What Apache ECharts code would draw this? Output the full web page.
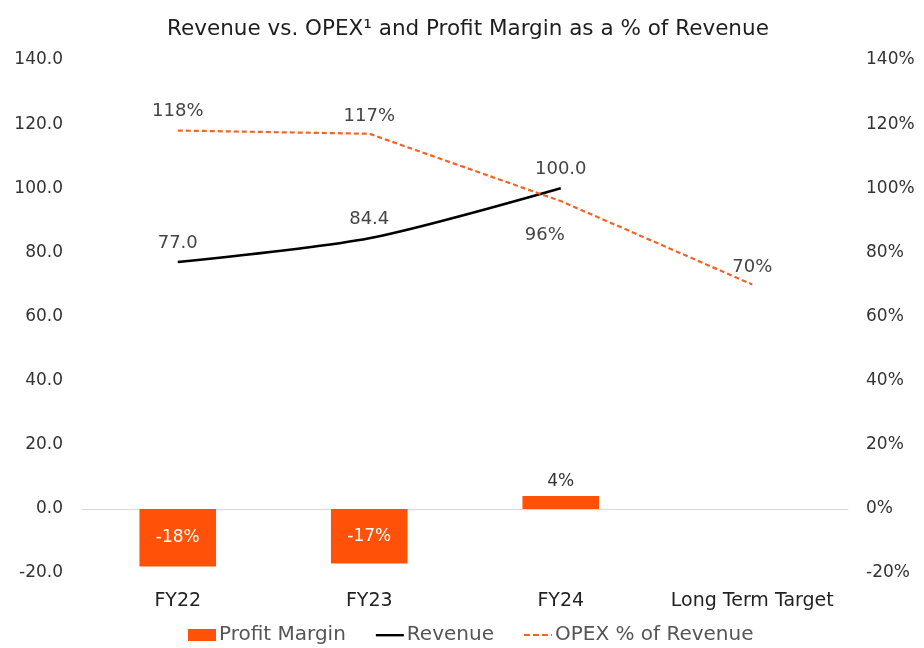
<!DOCTYPE html>
<html>
<head>
<meta charset="utf-8">
<script src="https://cdn.jsdelivr.net/npm/echarts@6/dist/echarts.min.js"></script>
<style>
  html, body { margin: 0; padding: 0; background: #fff; }
  #chart { width: 924px; height: 648px; }
</style>
</head>
<body>
<div id="chart"></div>
<script>
// Fiscal periods on the category axis
const categories = ['FY22', 'FY23', 'FY24', 'Long Term Target'];
// Revenue (left axis)
const revenue = [77.0, 84.4, 100.0, null];
// OPEX as a share of revenue, in % (right axis)
const opexPct = [118, 117, 96, 70];
// Profit margin, in % (right axis)
const profitMargin = [-18, -17, 4, null];
// Axis tick range
const axisMin = -20, axisMax = 140, axisStep = 20;

const FONT = '"DejaVu Sans", sans-serif';
const ORANGE = '#FF5208';
const DASH = '#F26424';

// Legend glyphs: the extra move-to points keep the full 28x12 box so the stroke stays thin
const ICON_SOLID = 'path://M0,0M28,12M0,5h28v2.4h-28z';
const ICON_DASH = 'path://M0,0M28,12M0,5h6v2h-6zM9,5h6v2h-6zM18,5h6v2h-6zM27,5h1v2h-1z';

const chart = echarts.init(document.getElementById('chart'));
chart.setOption({
  animation: false,
  backgroundColor: '#fff',
  textStyle: { fontFamily: FONT },
  title: {
    text: 'Revenue vs. OPEX¹ and Profit Margin as a % of Revenue',
    left: 162,
    top: 13,
    textStyle: { fontFamily: FONT, fontSize: 21.5, fontWeight: 'normal', color: '#1e1e1e' }
  },
  legend: {
    top: 620,
    left: 183,
    itemGap: 30,
    itemWidth: 28,
    itemHeight: 12,
    textStyle: { fontFamily: FONT, fontSize: 20, color: '#555', padding: [0, 0, 0, -2] },
    data: [
      { name: 'Profit Margin', icon: 'rect' },
      { name: 'Revenue', icon: ICON_SOLID },
      { name: 'OPEX % of Revenue', icon: ICON_DASH }
    ]
  },
  grid: { left: 82, right: 76, top: 60, bottom: 75 },
  xAxis: {
    type: 'category',
    data: categories,
    axisLine: { onZero: true, lineStyle: { color: '#d9d9d9', width: 1 } },
    axisTick: { show: false },
    axisLabel: { interval: 0, fontFamily: FONT, fontSize: 19, color: '#222', margin: 19 }
  },
  yAxis: [
    {
      type: 'value', min: axisMin, max: axisMax, interval: axisStep,
      splitLine: { show: false },
      axisLine: { show: false }, axisTick: { show: false },
      axisLabel: { fontFamily: FONT, fontSize: 17, color: '#333', margin: 19,
                   formatter: v => v.toFixed(1) }
    },
    {
      type: 'value', min: axisMin, max: axisMax, interval: axisStep,
      splitLine: { show: false },
      axisLine: { show: false }, axisTick: { show: false },
      axisLabel: { fontFamily: FONT, fontSize: 17, color: '#333', margin: 18,
                   formatter: v => v + '%' }
    }
  ],
  series: [
    {
      name: 'Profit Margin',
      type: 'bar',
      yAxisIndex: 1,
      barWidth: '40%',
      itemStyle: { color: ORANGE },
      label: {
        show: true, position: 'top', distance: 6,
        fontFamily: FONT, fontSize: 17, color: '#333',
        formatter: p => p.value + '%'
      },
      data: profitMargin.map(v => (v != null && v < 0)
        ? { value: v, label: { position: 'inside', color: '#fff' } }
        : v)
    },
    {
      name: 'Revenue',
      type: 'line',
      yAxisIndex: 0,
      data: revenue,
      smooth: 0.25,
      symbol: 'circle',
      symbolSize: 0,
      lineStyle: { color: '#000', width: 2.5 },
      itemStyle: { color: '#000' },
      label: {
        show: true, position: 'top', distance: 10,
        fontFamily: FONT, fontSize: 18, color: '#444',
        formatter: p => p.value.toFixed(1)
      }
    },
    {
      name: 'OPEX % of Revenue',
      type: 'line',
      yAxisIndex: 1,
      symbol: 'circle',
      symbolSize: 0,
      lineStyle: { color: DASH, width: 2.2, type: [5, 3] },
      itemStyle: { color: DASH },
      label: {
        show: true, position: 'top', distance: 10,
        fontFamily: FONT, fontSize: 18, color: '#444',
        formatter: p => p.value + '%'
      },
      data: opexPct.map((v, i) => {
        if (i === 1) return { value: v, label: { distance: 8 } };
        if (i === 2) return { value: v, label: { position: 'bottom', distance: 25, offset: [-16, 0] } };
        if (i === 3) return { value: v, label: { distance: 8 } };
        return v;
      })
    }
  ]
});
</script>
</body>
</html>
